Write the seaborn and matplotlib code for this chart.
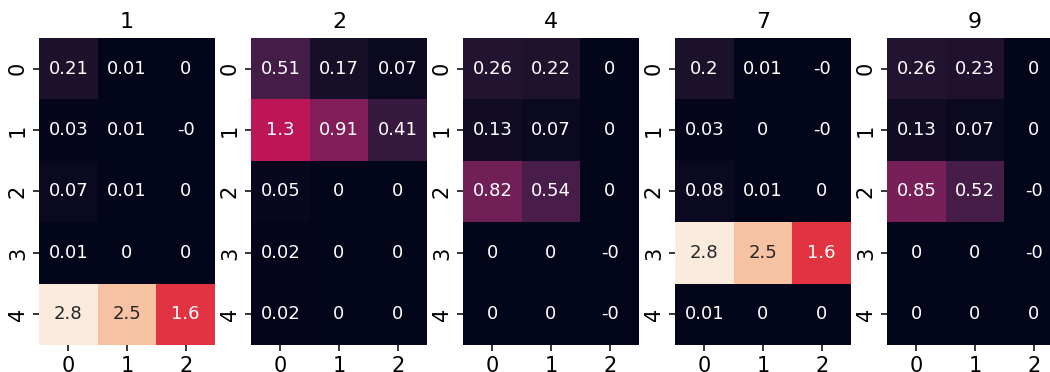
import numpy as np
import matplotlib
matplotlib.use("Agg")
import matplotlib.pyplot as plt
import seaborn as sns

# Panel titles and the 5x3 grid of values shown in each panel
titles = ["1", "2", "4", "7", "9"]
row_labels = [0, 1, 2, 3, 4]
col_labels = [0, 1, 2]

values_1 = [[0.21, 0.01, 0.0],
            [0.03, 0.01, -0.0],
            [0.07, 0.01, 0.0],
            [0.01, 0.0, 0.0],
            [2.8, 2.5, 1.6]]
values_2 = [[0.51, 0.17, 0.07],
            [1.3, 0.91, 0.41],
            [0.05, 0.0, 0.0],
            [0.02, 0.0, 0.0],
            [0.02, 0.0, 0.0]]
values_4 = [[0.26, 0.22, 0.0],
            [0.13, 0.07, 0.0],
            [0.82, 0.54, 0.0],
            [0.0, 0.0, -0.0],
            [0.0, 0.0, -0.0]]
values_7 = [[0.2, 0.01, -0.0],
            [0.03, 0.0, -0.0],
            [0.08, 0.01, 0.0],
            [2.8, 2.5, 1.6],
            [0.01, 0.0, 0.0]]
values_9 = [[0.26, 0.23, 0.0],
            [0.13, 0.07, 0.0],
            [0.85, 0.52, -0.0],
            [0.0, 0.0, -0.0],
            [0.0, 0.0, 0.0]]

panels = [values_1, values_2, values_4, values_7, values_9]
vmin = min(np.min(p) for p in panels)
vmax = max(np.max(p) for p in panels)

fig = plt.figure(figsize=(10.5, 3.72), dpi=100)
W, H = 1050, 372
lefts = [39, 251, 463, 675, 887]
ax_w, top, bottom = 176, 38, 345

for left, title, vals in zip(lefts, titles, panels):
    ax = fig.add_axes([left / W, (H - bottom) / H, ax_w / W, (bottom - top) / H])
    sns.heatmap(np.array(vals), ax=ax, annot=True, cbar=False,
                vmin=vmin, vmax=vmax, annot_kws={"size": 13},
                xticklabels=col_labels, yticklabels=row_labels)
    ax.set_title(title, fontsize=16, pad=7)
    ax.tick_params(axis="both", labelsize=15, length=4.5, width=1.1)

fig.savefig("out.png", dpi=100)
